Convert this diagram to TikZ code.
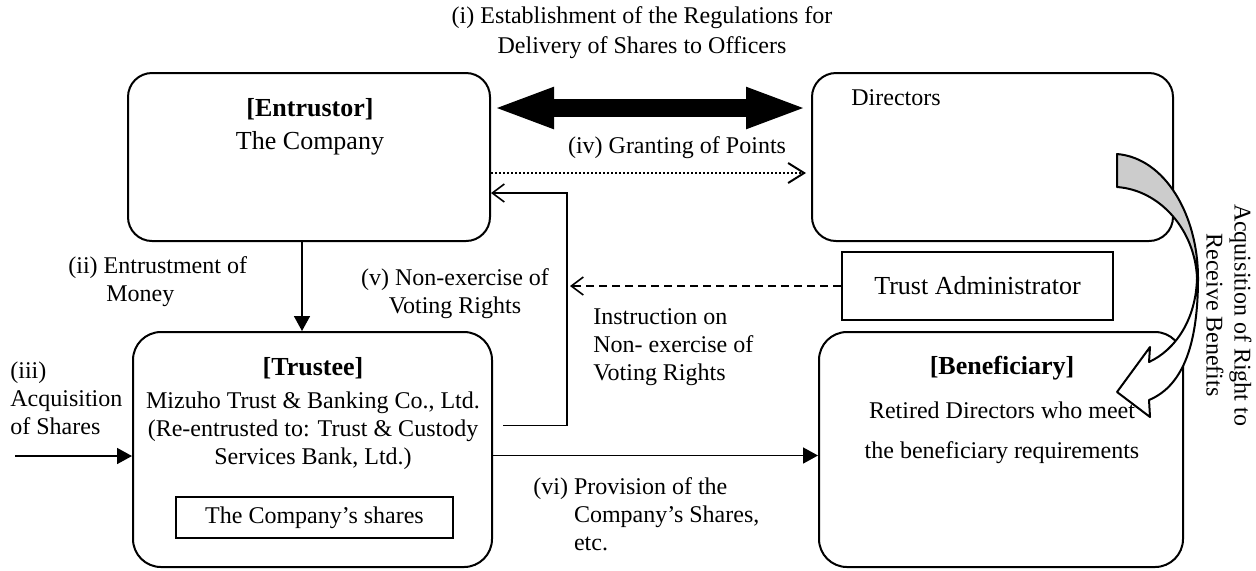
\documentclass[tikz,border=0pt]{standalone}
\usepackage{fontspec}
\setmainfont{Liberation Serif}
\usetikzlibrary{calc}
\usetikzlibrary{arrows.meta}

\begin{document}
\begin{tikzpicture}[x=.5pt, y=-.5pt, font=\fontsize{12}{14}\selectfont,
 box/.style={draw, line width=1pt, rounded corners=12pt, inner sep=0},
 txt/.style={inner sep=0, align=center},
 arr/.style={line width=.8pt, -{Triangle[length=7.5pt,width=8pt]}},
 barb/.style={line width=.8pt, -{Straight Barb[length=6pt,width=9pt]}}]
\useasboundingbox (0,0) rectangle (1256,570);
\node[box, minimum width=181pt, minimum height=84pt] (entrustor) at (309,157) {};
\node[box, minimum width=180.5pt, minimum height=84pt] (directors) at (992.5,157) {};
\node[box, rounded corners=14pt, minimum width=179.5pt, minimum height=117.5pt] (trustee) at (312.5,449.5) {};
\node[box, rounded corners=14pt, minimum width=182pt, minimum height=117.5pt] (beneficiary) at (1001,449.5) {};
\node[draw, line width=1pt, minimum width=135.5pt, minimum height=34pt, font=\fontsize{13}{15}\selectfont] (admin) at (977.5,286) {Trust Administrator};
\node[draw, line width=1pt, minimum width=138.5pt, minimum height=20.5pt] (shares) at (314.5,517.5) {The Company's shares};

\draw[line width=9pt, {Triangle[length=31pt,width=18.5pt]}-{Triangle[length=31pt,width=18.5pt]}] ($(entrustor.east)+(1,-49)$) -- ($(directors.west)+(-3,-49)$);
\draw[line width=1pt, dash pattern=on 1pt off 1pt, -{Straight Barb[length=8pt,width=10pt]}] ($(entrustor.east)+(0,16)$) -- ($(directors.west)+(-5,16)$);
\coordinate (money in) at ($(entrustor.south)+(-7,0)$);
\draw[arr] (money in) -- (money in |- trustee.north);
\coordinate (shares in) at (15,456);
\draw[arr] (shares in) -- (shares in -| trustee.west);
\draw[barb] ($(trustee.east)+(10,-24)$) -| ($(entrustor.east)+(76,36)$) -- ($(entrustor.east)+(0,36)$);
\coordinate (instr end) at (570,286);
\draw[barb, dash pattern=on 4pt off 2.5pt] (admin.west) -- (instr end);
\coordinate (deliver) at ($(trustee.east)+(0,6)$);
\draw[arr] (deliver) -- (deliver -| beneficiary.west);

\fill[white] (1117,154) .. controls (1165,158) and (1198,215) .. (1198,278) .. controls (1198,340) and (1185,385) .. (1149,400) -- (1150,417) -- (1117,392) -- (1150,347) -- (1149,362) .. controls (1175,350) and (1196,320) .. (1197,278) .. controls (1195,230) and (1160,190) .. (1117,187) -- cycle;
\fill[black!20] (1117,154) .. controls (1165,158) and (1198,215) .. (1198,278) .. controls (1195,230) and (1160,190) .. (1117,187) -- cycle;
\draw[line width=1pt, line join=round] (1117,154) .. controls (1165,158) and (1198,215) .. (1198,278) .. controls (1198,340) and (1185,385) .. (1149,400) -- (1150,417) -- (1117,392) -- (1150,347) -- (1149,362) .. controls (1175,350) and (1196,320) .. (1197,278) .. controls (1195,230) and (1160,190) .. (1117,187) -- cycle;

\node[txt, font=\fontsize{12}{15}\selectfont] (regs) at (642,33) {(i) Establishment of the Regulations for\\Delivery of Shares to Officers};
\node[txt, font=\fontsize{13}{16.5}\selectfont] (entrustor text) at (310,127) {\textbf{[Entrustor]}\\The Company};
\node[txt] (directors text) at (896,98) {Directors};
\node[txt] (granting) at (677,148) {(iv) Granting of Points};
\node[txt, anchor=west, align=left] (money) at (68,282) {(ii) Entrustment of\\\hspace*{19pt}Money};
\node[txt] (voting) at (455,294) {(v) Non-exercise of\\Voting Rights};
\node[txt, anchor=west, align=left] (instruction) at (593,347) {Instruction on\\Non- exercise of\\Voting Rights};
\node[txt, anchor=west, align=left] (acquisition) at (10,398) {(iii)\\Acquisition\\of Shares};
\node[txt] (trustee text) at (313,414) {{\fontsize{13}{15}\selectfont\textbf{[Trustee]}}\\[2.5pt]Mizuho Trust \& Banking Co., Ltd.\\(Re-entrusted to: Trust \& Custody\\Services Bank, Ltd.)};
\node[txt] (beneficiary text) at (1002,410) {{\fontsize{13}{15}\selectfont\textbf{[Beneficiary]}}\\[8pt]Retired Directors who meet\\[6pt]the beneficiary requirements};
\node[txt, anchor=west, align=left] (provision) at (533,517) {(vi) Provision of the\\\phantom{(vi) }Company's Shares,\\\phantom{(vi) }etc.};
\node[txt, rotate=-90] (right to) at (1229,315) {Acquisition of Right to\\Receive Benefits};
\end{tikzpicture}
\end{document}
